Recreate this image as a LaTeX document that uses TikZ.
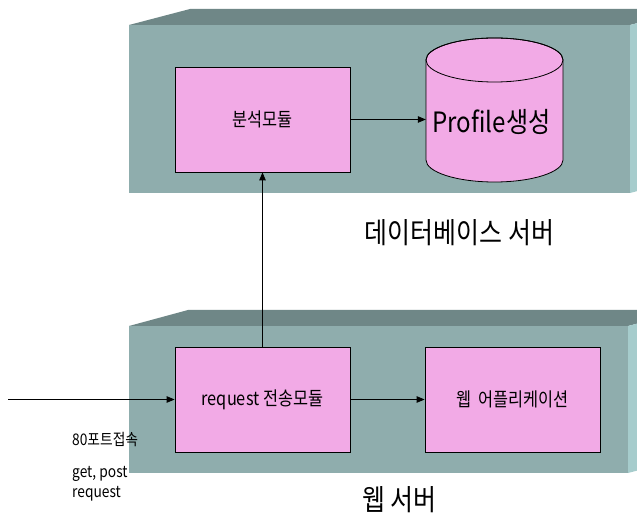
\documentclass[tikz,border=0pt]{standalone}
\usepackage{fontspec}
\newfontfamily\kr[FakeStretch=0.86]{Noto Sans CJK KR}
\usetikzlibrary{arrows.meta}
\definecolor{facefront}{HTML}{8FADAD}
\definecolor{facetop}{HTML}{6F8787}
\definecolor{faceside}{HTML}{A6CCCC}
\definecolor{modpink}{HTML}{F2AAE6}
\tikzset{
  module/.style={draw=black, line width=0.8pt, fill=modpink,
    minimum width=175pt, minimum height=105pt, inner sep=0pt,
    font=\kr\fontsize{19}{21}\selectfont},
  flow/.style={-{Triangle[length=8pt,width=6.5pt]}, line width=0.8pt},
  title/.style={font=\kr\fontsize{29}{32}\selectfont, inner sep=0pt},
  note/.style={font=\kr\fontsize{16}{18}\selectfont, inner sep=0pt, anchor=west}
}
\begin{document}
\begin{tikzpicture}[x=1pt,y=-1pt]
\useasboundingbox (0,0) rectangle (637,518);
\fill[white] (0,0) rectangle (637,518);
\begin{scope}
\clip (0,0) rectangle (637,518);
% database server block
\fill[facetop]   (129,25) -- (190,9) -- (691,9) -- (630,25) -- cycle;
\fill[faceside]  (630,25) -- (691,9) -- (691,177) -- (630,193) -- cycle;
\fill[facefront] (129,25) rectangle (630,193);
% web server block
\fill[facetop]   (129,326) -- (188,310) -- (689,310) -- (628,326) -- cycle;
\fill[faceside]  (628,326) -- (689,310) -- (689,457) -- (628,473) -- cycle;
\fill[facefront] (129,326) rectangle (628,473);
\end{scope}

% modules
\node[module] (ana) at (262.5,119.5) {분석모듈};
\node[module] (req) at (262.5,399.5) {request 전송모듈};
\node[module] (app) at (512.5,399.5) {웹\ \ 어플리케이션};

% profile database (cylinder); arc radii are canvas lengths, so angle 270 points down
\node[minimum width=137pt, minimum height=144pt, inner sep=0pt] (db) at (494.5,110) {};
\fill[modpink, draw=black, line width=0.8pt]
  (426,60) -- (426,160) arc[start angle=180, end angle=360, x radius=68.5pt, y radius=22pt]
  -- (563,60) arc[start angle=0, end angle=180, x radius=68.5pt, y radius=22pt] -- cycle;
\draw[line width=0.8pt] (494.5,60) ellipse[x radius=68.5pt, y radius=22pt];
\node[font=\kr\fontsize{28}{30}\selectfont, inner sep=0pt] at (491.5,122) {Profile생성};

% block titles
\node[title] (dbt) at (459.5,233) {데이터베이스 서버};
\node[title] (webt) at (399.5,500) {웹 서버};

% incoming request
\coordinate (in) at (8,399.5);
\draw[flow] (in) -- (req.west);
\node[note] (port) at (72,440) {80포트접속};
\node[note] (gp) at (72,474) {get, post};
\node[note] (rq) at (72,494) {request};

% connectors
\draw[flow] (req.east) -- (app.west);
\draw[flow] (req.north) -- (ana.south);
\draw[flow] (ana.east) -- (ana.east -| db.west);
\end{tikzpicture}
\end{document}
